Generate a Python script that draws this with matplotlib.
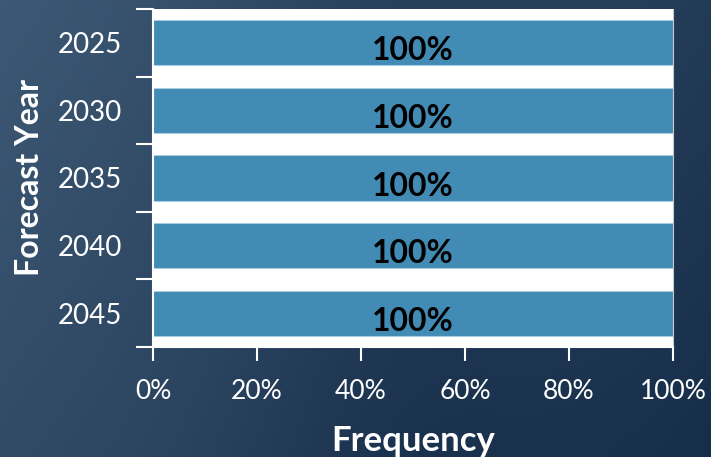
import numpy as np
import matplotlib.pyplot as plt
from matplotlib.colors import LinearSegmentedColormap

years = ["2025", "2030", "2035", "2040", "2045"]
freq = [100, 100, 100, 100, 100]
labels = ["100%", "100%", "100%", "100%", "100%"]
xticks = [0, 20, 40, 60, 80, 100]

plt.rcParams['font.family'] = ['Lato', 'DejaVu Sans']

fig = plt.figure(figsize=(7.11, 4.57), dpi=100)

# dark blue background, lighter towards the left
bg = fig.add_axes([0, 0, 1, 1], zorder=-1)
gx = np.linspace(0, 1, 200)
gy = np.linspace(0, 1, 120)
X, Y = np.meshgrid(gx, gy)
shade = 0.55 * (1 - X) + 0.25 * Y - 0.15 * np.exp(-((X - 0.55) ** 2) / 0.05)
cmap = LinearSegmentedColormap.from_list("bgc", ["#172e4a", "#3d5874"])
bg.imshow(shade, cmap=cmap, aspect="auto", extent=[0, 1, 0, 1], origin="lower")
bg.axis("off")

ax = fig.add_axes([153 / 711, 1 - 347 / 457, 520 / 711, 338 / 457])
ax.set_facecolor("white")

pos = np.arange(len(years))
ax.barh(pos, freq, height=0.67, color="#428bb5", edgecolor="#a9cce3", linewidth=0.8)
for p, v, t in zip(pos, freq, labels):
    ax.text(v / 2, p + 0.12, t, ha="center", va="center", fontsize=23,
            fontweight="bold", color="black")

ax.set_xlim(0, 100)
ax.set_ylim(len(years) - 0.5, -0.5)
ax.set_xticks(xticks)
ax.set_xticklabels([f"{x}%" for x in xticks])
ax.set_yticks(pos)
ax.set_yticklabels(years)
ax.set_yticks(np.arange(-0.5, len(years), 1), minor=True)
ax.tick_params(axis="y", which="major", length=0, pad=22, labelsize=20, labelcolor="white")
ax.tick_params(axis="y", which="minor", length=12, width=1.5, color="white", direction="out")
ax.tick_params(axis="x", length=10, width=1.5, color="white", direction="out",
               labelsize=19, labelcolor="white", pad=13)

for s in ["top", "right"]:
    ax.spines[s].set_visible(False)
ax.spines["right"].set_visible(True)
ax.spines["right"].set_color("#c8c8c8")
ax.spines["left"].set_color("white")
ax.spines["left"].set_linewidth(1.5)
ax.spines["bottom"].set_color("white")
ax.spines["bottom"].set_linewidth(1.5)

ax.set_xlabel("Frequency", fontsize=25, fontweight="bold", color="white", labelpad=15)
ax.set_ylabel("Forecast Year", fontsize=23, fontweight="bold", color="white", labelpad=10)

fig.savefig("out.png", dpi=100)
